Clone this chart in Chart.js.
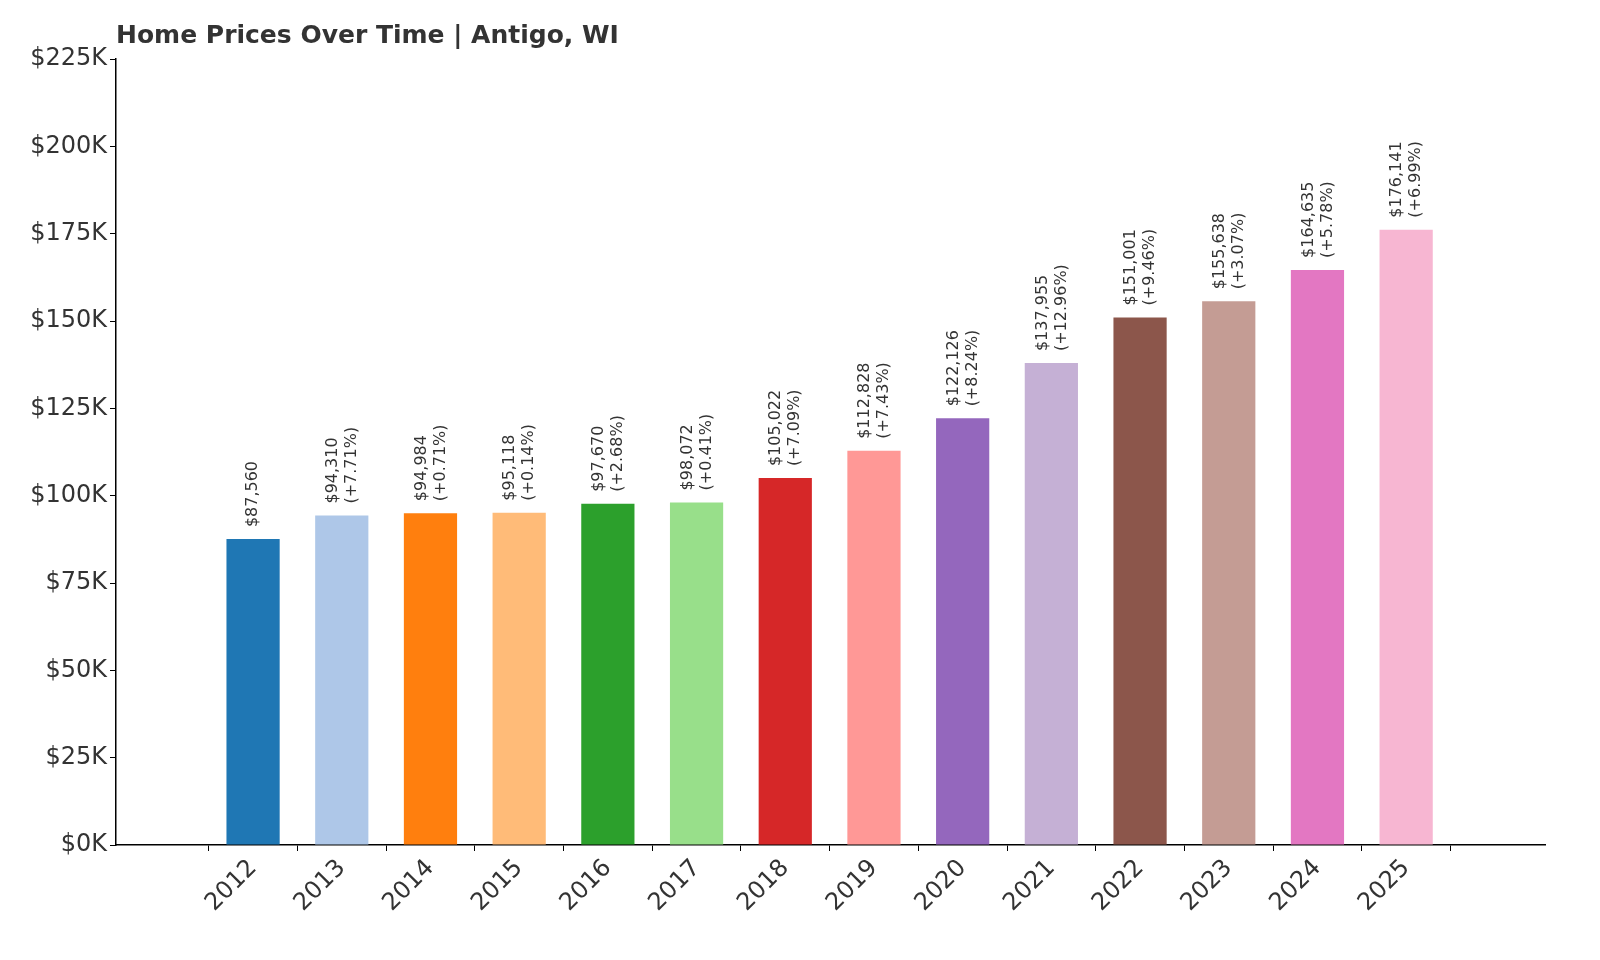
<!DOCTYPE html>
<html><head><meta charset="utf-8">
<script src="https://cdn.jsdelivr.net/npm/chart.js@4"></script>
<style>html,body{margin:0;padding:0;background:#fff}#w{width:1600px;height:960px}</style>
</head><body><div id="w"><canvas id="c"></canvas></div>
<script>
const years=["2012","2013","2014","2015","2016","2017","2018","2019","2020","2021","2022","2023","2024","2025"];
const prices=[87560,94310,94984,95118,97670,98072,105022,112828,122126,137955,151001,155638,164635,176141];
const changes=[null,"+7.71%","+0.71%","+0.14%","+2.68%","+0.41%","+7.09%","+7.43%","+8.24%","+12.96%","+9.46%","+3.07%","+5.78%","+6.99%"];
const colors=["#1f77b4","#aec7e8","#ff7f0e","#ffbb78","#2ca02c","#98df8a","#d62728","#ff9896","#9467bd","#c5b0d5","#8c564b","#c49c94","#e377c2","#f7b6d2"];
const F="'DejaVu Sans', sans-serif";
const pts=prices.map((p,i)=>({x:i,y:p}));
const labelPlugin={id:'lbl',afterDatasetsDraw(ch){
  const ctx=ch.ctx;const meta=ch.getDatasetMeta(0);
  ctx.save();ctx.fillStyle='#333';ctx.font='16px '+F;ctx.textBaseline='middle';ctx.textAlign='left';
  meta.data.forEach((b,i)=>{
    const v='$'+prices[i].toLocaleString('en-US');
    ctx.save();ctx.translate(b.x,b.y-12);ctx.rotate(-Math.PI/2);
    if(changes[i]){ctx.fillText(v,0,-9);ctx.fillText('('+changes[i]+')',0,10);}
    else ctx.fillText(v,0,0);
    ctx.restore();
  });
  ctx.font='bold 25px '+F;ctx.fillStyle='#333';ctx.textBaseline='alphabetic';
  ctx.fillText('Home Prices Over Time | Antigo, WI',116,43);
  ctx.restore();
}};
new Chart(document.getElementById('c'),{type:'bar',
 data:{datasets:[{data:pts,backgroundColor:colors,categoryPercentage:1,barPercentage:0.6}]},
 options:{responsive:true,maintainAspectRatio:false,animation:false,
  layout:{padding:{top:59,right:55,left:0,bottom:0}},
  plugins:{legend:{display:false},tooltip:{enabled:false}},
  scales:{
   x:{type:'linear',min:-0.97,max:13.99,grid:{drawOnChartArea:false,drawTicks:true,tickLength:6,color:'#000'},border:{display:true,color:'#000',width:1.5},
      afterBuildTicks(s){s.ticks=years.map((y,i)=>({value:i}));},
      ticks:{color:'#333',font:{size:24,family:F},maxRotation:45,minRotation:45,autoSkip:false,callback:v=>years[v]},
      afterFit(s){s.height=115;}},
   y:{min:0,max:225000,grid:{drawOnChartArea:false,drawTicks:true,tickLength:6,color:'#000'},border:{display:true,color:'#000',width:1.5},
      ticks:{stepSize:25000,color:'#333',font:{size:24,family:F},callback:v=>'$'+(v/1000)+'K'},
      afterFit(s){s.width=116;}}
  }},plugins:[labelPlugin]});
</script></body></html>
